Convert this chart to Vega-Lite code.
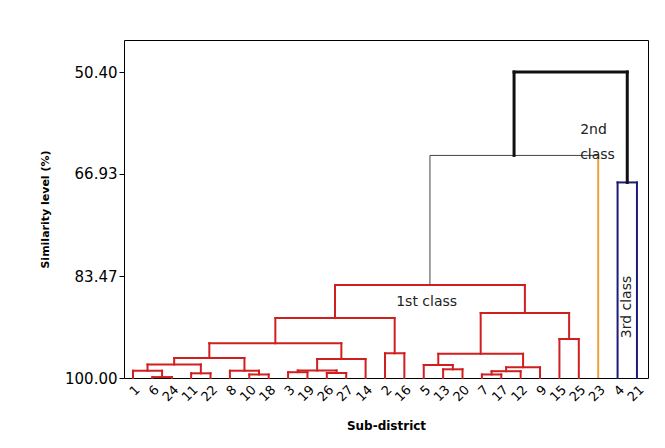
{
  "$schema": "https://vega.github.io/schema/vega-lite/v6.json",
  "width": 524,
  "height": 338,
  "autosize": {"type": "none"},
  "padding": {"left": 124, "top": 40, "right": 17, "bottom": 70},
  "background": "white",
  "config": {"view": {"stroke": "black", "strokeWidth": 1}, "font": "DejaVu Sans"},
  "datasets": {
    "links": [
      {"x":2,"x2":2,"y":100,"y2":99.85,"g":"c1"},{"x":3,"x2":3,"y":100,"y2":99.85,"g":"c1"},{"x":2,"x2":3,"y":99.85,"y2":99.85,"g":"c1"},
      {"x":1,"x2":1,"y":100,"y2":98.82,"g":"c1"},{"x":2.5,"x2":2.5,"y":99.85,"y2":98.82,"g":"c1"},{"x":1,"x2":2.5,"y":98.82,"y2":98.82,"g":"c1"},
      {"x":4,"x2":4,"y":100,"y2":99.24,"g":"c1"},{"x":5,"x2":5,"y":100,"y2":99.24,"g":"c1"},{"x":4,"x2":5,"y":99.24,"y2":99.24,"g":"c1"},
      {"x":1.75,"x2":1.75,"y":98.82,"y2":97.81,"g":"c1"},{"x":4.5,"x2":4.5,"y":99.24,"y2":97.81,"g":"c1"},{"x":1.75,"x2":4.5,"y":97.81,"y2":97.81,"g":"c1"},
      {"x":7,"x2":7,"y":100,"y2":99.43,"g":"c1"},{"x":8,"x2":8,"y":100,"y2":99.43,"g":"c1"},{"x":7,"x2":8,"y":99.43,"y2":99.43,"g":"c1"},
      {"x":6,"x2":6,"y":100,"y2":98.82,"g":"c1"},{"x":7.5,"x2":7.5,"y":99.43,"y2":98.82,"g":"c1"},{"x":6,"x2":7.5,"y":98.82,"y2":98.82,"g":"c1"},
      {"x":3.125,"x2":3.125,"y":97.81,"y2":96.76,"g":"c1"},{"x":6.75,"x2":6.75,"y":98.82,"y2":96.76,"g":"c1"},{"x":3.125,"x2":6.75,"y":96.76,"y2":96.76,"g":"c1"},
      {"x":9,"x2":9,"y":100,"y2":99.06,"g":"c1"},{"x":10,"x2":10,"y":100,"y2":99.06,"g":"c1"},{"x":9,"x2":10,"y":99.06,"y2":99.06,"g":"c1"},
      {"x":11,"x2":11,"y":100,"y2":99.19,"g":"c1"},{"x":12,"x2":12,"y":100,"y2":99.19,"g":"c1"},{"x":11,"x2":12,"y":99.19,"y2":99.19,"g":"c1"},
      {"x":9.5,"x2":9.5,"y":99.06,"y2":98.78,"g":"c1"},{"x":11.5,"x2":11.5,"y":99.19,"y2":98.78,"g":"c1"},{"x":9.5,"x2":11.5,"y":98.78,"y2":98.78,"g":"c1"},
      {"x":10.5,"x2":10.5,"y":98.78,"y2":96.92,"g":"c1"},{"x":13,"x2":13,"y":100,"y2":96.92,"g":"c1"},{"x":10.5,"x2":13,"y":96.92,"y2":96.92,"g":"c1"},
      {"x":4.9375,"x2":4.9375,"y":96.76,"y2":94.37,"g":"c1"},{"x":11.75,"x2":11.75,"y":96.92,"y2":94.37,"g":"c1"},{"x":4.9375,"x2":11.75,"y":94.37,"y2":94.37,"g":"c1"},
      {"x":14,"x2":14,"y":100,"y2":95.99,"g":"c1"},{"x":15,"x2":15,"y":100,"y2":95.99,"g":"c1"},{"x":14,"x2":15,"y":95.99,"y2":95.99,"g":"c1"},
      {"x":8.34375,"x2":8.34375,"y":94.37,"y2":90.28,"g":"c1"},{"x":14.5,"x2":14.5,"y":95.99,"y2":90.28,"g":"c1"},{"x":8.34375,"x2":14.5,"y":90.28,"y2":90.28,"g":"c1"},
      {"x":17,"x2":17,"y":100,"y2":98.59,"g":"c1"},{"x":18,"x2":18,"y":100,"y2":98.59,"g":"c1"},{"x":17,"x2":18,"y":98.59,"y2":98.59,"g":"c1"},
      {"x":16,"x2":16,"y":100,"y2":97.89,"g":"c1"},{"x":17.5,"x2":17.5,"y":98.59,"y2":97.89,"g":"c1"},{"x":16,"x2":17.5,"y":97.89,"y2":97.89,"g":"c1"},
      {"x":19,"x2":19,"y":100,"y2":99.43,"g":"c1"},{"x":20,"x2":20,"y":100,"y2":99.43,"g":"c1"},{"x":19,"x2":20,"y":99.43,"y2":99.43,"g":"c1"},
      {"x":19.5,"x2":19.5,"y":99.43,"y2":98.9,"g":"c1"},{"x":21,"x2":21,"y":100,"y2":98.9,"g":"c1"},{"x":19.5,"x2":21,"y":98.9,"y2":98.9,"g":"c1"},
      {"x":20.25,"x2":20.25,"y":98.9,"y2":98.25,"g":"c1"},{"x":22,"x2":22,"y":100,"y2":98.25,"g":"c1"},{"x":20.25,"x2":22,"y":98.25,"y2":98.25,"g":"c1"},
      {"x":16.75,"x2":16.75,"y":97.89,"y2":96.08,"g":"c1"},{"x":21.125,"x2":21.125,"y":98.25,"y2":96.08,"g":"c1"},{"x":16.75,"x2":21.125,"y":96.08,"y2":96.08,"g":"c1"},
      {"x":23,"x2":23,"y":100,"y2":93.68,"g":"c1"},{"x":24,"x2":24,"y":100,"y2":93.68,"g":"c1"},{"x":23,"x2":24,"y":93.68,"y2":93.68,"g":"c1"},
      {"x":18.9375,"x2":18.9375,"y":96.08,"y2":89.46,"g":"c1"},{"x":23.5,"x2":23.5,"y":93.68,"y2":89.46,"g":"c1"},{"x":18.9375,"x2":23.5,"y":89.46,"y2":89.46,"g":"c1"},
      {"x":11.421875,"x2":11.421875,"y":90.28,"y2":84.93,"g":"c1"},{"x":21.21875,"x2":21.21875,"y":89.46,"y2":84.93,"g":"c1"},{"x":11.421875,"x2":21.21875,"y":84.93,"y2":84.93,"g":"c1"},
      {"x":16.3203,"x2":16.3203,"y":84.93,"y2":63.92,"g":"link"},{"x":25,"x2":25,"y":100,"y2":63.92,"g":"c2"},{"x":16.3203,"x2":25,"y":63.92,"y2":63.92,"g":"link"},
      {"x":26,"x2":26,"y":100,"y2":68.3,"g":"c3"},{"x":27,"x2":27,"y":100,"y2":68.3,"g":"c3"},{"x":26,"x2":27,"y":68.3,"y2":68.3,"g":"c3"},
      {"x":20.66,"x2":20.66,"y":63.92,"y2":50.4,"g":"top"},{"x":26.5,"x2":26.5,"y":68.3,"y2":50.4,"g":"top"},{"x":20.66,"x2":26.5,"y":50.4,"y2":50.4,"g":"top"}
    ]
  },
  "data": {"name": "links"},
  "encoding": {
    "x": {
      "field": "x", "type": "quantitative",
      "scale": {"domain": [0.536, 27.57], "nice": false, "zero": false},
      "axis": {
        "values": [1,2,3,4,5,6,7,8,9,10,11,12,13,14,15,16,17,18,19,20,21,22,23,24,25,26,27],
        "labelExpr": "['1','6','24','11','22','8','10','18','3','19','26','27','14','2','16','5','13','20','7','17','12','9','15','25','23','4','21'][datum.value-1]",
        "labelAngle": -45, "labelFontSize": 13, "labelColor": "black", "labelOverlap": false,
        "ticks": false, "domain": false, "grid": false, "labelPadding": 5,
        "title": "Sub-district", "titleFontWeight": "bold", "titleFontSize": 12, "titleColor": "black", "titlePadding": 17
      }
    },
    "y": {
      "field": "y", "type": "quantitative",
      "scale": {"domain": [45.21, 100], "reverse": true, "nice": false, "zero": false},
      "axis": {
        "values": [50.4, 66.93, 83.47, 100], "format": ".2f",
        "labelFontSize": 15, "labelColor": "black", "labelPadding": 2,
        "tickColor": "black", "tickSize": 5, "domain": false, "grid": false,
        "title": "Similarity level (%)", "titleFontWeight": "bold", "titleFontSize": 11, "titleColor": "black", "titlePadding": 14
      }
    }
  },
  "layer": [
    {
      "transform": [{"filter": "datum.g == 'c1'"}],
      "mark": {"type": "rule", "color": "#d01f1f", "strokeWidth": 2, "strokeCap": "square"},
      "encoding": {"x2": {"field": "x2"}, "y2": {"field": "y2"}}
    },
    {
      "transform": [{"filter": "datum.g == 'link'"}],
      "mark": {"type": "rule", "color": "#444444", "strokeWidth": 1},
      "encoding": {"x2": {"field": "x2"}, "y2": {"field": "y2"}}
    },
    {
      "transform": [{"filter": "datum.g == 'c2'"}],
      "mark": {"type": "rule", "color": "#eea236", "strokeWidth": 2},
      "encoding": {"x2": {"field": "x2"}, "y2": {"field": "y2"}}
    },
    {
      "transform": [{"filter": "datum.g == 'c3'"}],
      "mark": {"type": "rule", "color": "#1c1c7a", "strokeWidth": 2, "strokeCap": "square"},
      "encoding": {"x2": {"field": "x2"}, "y2": {"field": "y2"}}
    },
    {
      "transform": [{"filter": "datum.g == 'top'"}],
      "mark": {"type": "rule", "color": "#111111", "strokeWidth": 3, "strokeCap": "square"},
      "encoding": {"x2": {"field": "x2"}, "y2": {"field": "y2"}}
    },
    {
      "data": {"values": [{"x": 16.15, "y": 87.7, "t": "1st class"}]},
      "mark": {"type": "text", "align": "center", "baseline": "middle", "fontSize": 14, "color": "#222222"},
      "encoding": {"text": {"field": "t"}}
    },
    {
      "data": {"values": [{"x": 24.07, "y": 59.8, "t": "2nd"}, {"x": 24.07, "y": 63.85, "t": "class"}]},
      "mark": {"type": "text", "align": "left", "baseline": "middle", "fontSize": 14, "color": "#222222"},
      "encoding": {"text": {"field": "t"}}
    },
    {
      "data": {"values": [{"x": 26.49, "y": 88.49, "t": "3rd class"}]},
      "mark": {"type": "text", "align": "center", "baseline": "middle", "fontSize": 14, "angle": 270, "color": "#222222"},
      "encoding": {"text": {"field": "t"}}
    }
  ]
}
